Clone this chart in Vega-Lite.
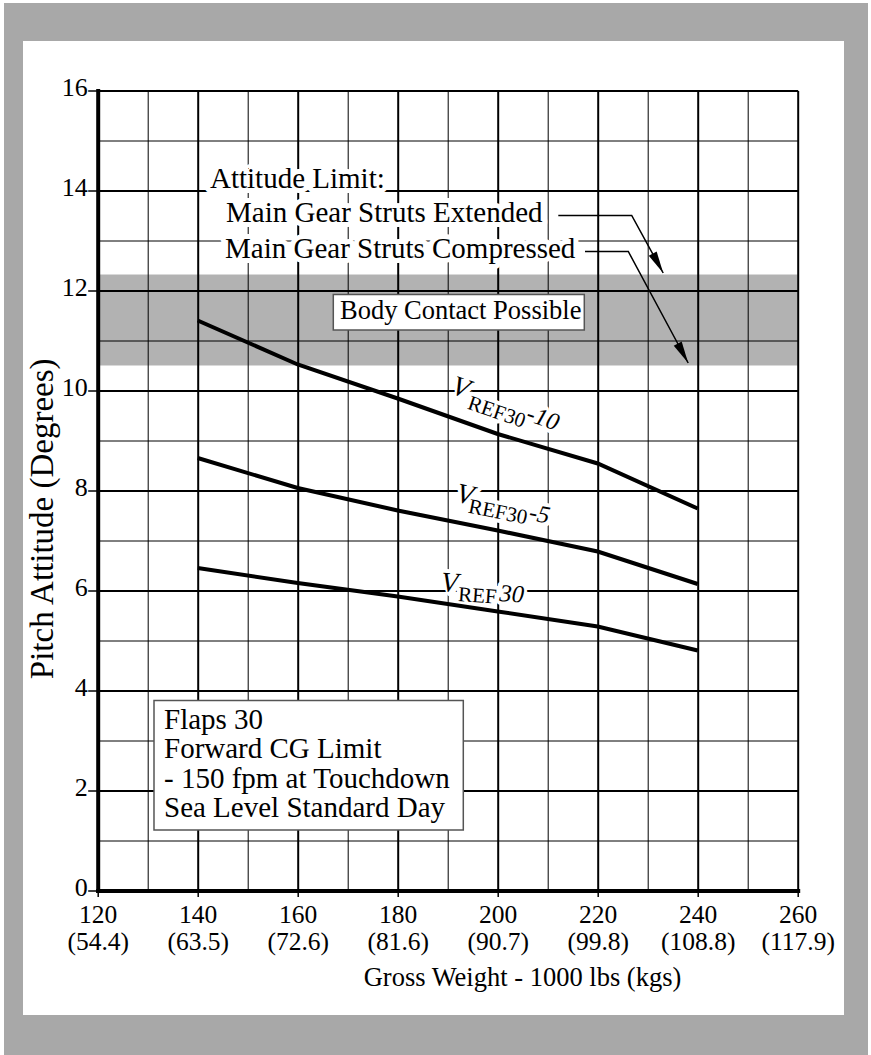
{
  "$schema": "https://vega.github.io/schema/vega-lite/v6.json",
  "width": 700,
  "height": 800,
  "autosize": {"type": "none"},
  "padding": {"left": 97.7, "top": 90.5, "right": 73.3, "bottom": 164.5},
  "background": "white",
  "config": {"view": {"stroke": null}, "font": "Liberation Serif"},
  "datasets": {
    "frame": [
      {"x": 101.26, "x2": 274.06, "y": 17.75, "y2": 16.99},
      {"x": 101.26, "x2": 274.06, "y": -2.49, "y2": -3.29},
      {"x": 101.26, "x2": 105.06, "y": 16.99, "y2": -2.49},
      {"x": 269.26, "x2": 274.06, "y": 16.99, "y2": -2.49}
    ],
    "band": [{"x": 120, "x2": 260, "y": 12.32, "y2": 10.5}],
    "curves": [
      {"series": "V10", "x": 140, "y": 11.4},
      {"series": "V10", "x": 160, "y": 10.52},
      {"series": "V10", "x": 180, "y": 9.84},
      {"series": "V10", "x": 200, "y": 9.13},
      {"series": "V10", "x": 220, "y": 8.54},
      {"series": "V10", "x": 240, "y": 7.64},
      {"series": "V5", "x": 140, "y": 8.65},
      {"series": "V5", "x": 160, "y": 8.05},
      {"series": "V5", "x": 180, "y": 7.6},
      {"series": "V5", "x": 200, "y": 7.2},
      {"series": "V5", "x": 220, "y": 6.78},
      {"series": "V5", "x": 240, "y": 6.13},
      {"series": "V0", "x": 140, "y": 6.45},
      {"series": "V0", "x": 160, "y": 6.15},
      {"series": "V0", "x": 180, "y": 5.88},
      {"series": "V0", "x": 200, "y": 5.58},
      {"series": "V0", "x": 220, "y": 5.28},
      {"series": "V0", "x": 240, "y": 4.8}
    ],
    "arrows": [
      {"arrow": "ext", "order": 1, "x": 212.12, "y": 13.5},
      {"arrow": "ext", "order": 2, "x": 226.8, "y": 13.5},
      {"arrow": "ext", "order": 3, "x": 233.1, "y": 12.35},
      {"arrow": "comp", "order": 1, "x": 217.46, "y": 12.78},
      {"arrow": "comp", "order": 2, "x": 226.12, "y": 12.78},
      {"arrow": "comp", "order": 3, "x": 238.1, "y": 10.55}
    ],
    "heads": [{"x": 233.1, "y": 12.35}, {"x": 238.1, "y": 10.55}],
    "boxes": [
      {"x": 167.12, "x2": 217.32, "y": 11.92, "y2": 11.21},
      {"x": 131.26, "x2": 193.12, "y": 3.8, "y2": 1.21}
    ],
    "notes": [
      {"x": 142.46, "y": 14.05, "text": "Attitude Limit:"},
      {"x": 145.66, "y": 13.38, "text": "Main Gear Struts Extended"},
      {"x": 145.46, "y": 12.66, "text": "Main Gear Struts Compressed"},
      {"x": 133.26, "y": 3.224, "text": "Flaps 30"},
      {"x": 133.26, "y": 2.644, "text": "Forward CG Limit"},
      {"x": 133.26, "y": 2.044, "text": "- 150 fpm at Touchdown"},
      {"x": 133.26, "y": 1.464, "text": "Sea Level Standard Day"}
    ],
    "body": [{"x": 168.46, "y": 11.424, "text": "Body Contact Possible"}],
    "labels": [
      {"label": "V10", "part": "V", "x": 190.46, "y": 9.95, "text": "V"},
      {"label": "V10", "part": "sub", "x": 193.76, "y": 9.64, "text": "REF30"},
      {"label": "V10", "part": "suf", "x": 205.46, "y": 9.41, "text": "-10"},
      {"label": "V5", "part": "V", "x": 191.46, "y": 7.78, "text": "V"},
      {"label": "V5", "part": "sub", "x": 193.96, "y": 7.56, "text": "REF30"},
      {"label": "V5", "part": "suf", "x": 206.06, "y": 7.42, "text": "-5"},
      {"label": "V0", "part": "V", "x": 188.56, "y": 5.99, "text": "V"},
      {"label": "V0", "part": "sub", "x": 192.0, "y": 5.79, "text": "REF"},
      {"label": "V0", "part": "suf", "x": 200.26, "y": 5.79, "text": "30"}
    ]
  },
  "encoding": {
    "x": {
      "field": "x",
      "type": "quantitative",
      "scale": {"domain": [120, 260], "nice": false, "zero": false},
      "axis": {
        "values": [120, 130, 140, 150, 160, 170, 180, 190, 200, 210, 220, 230, 240, 250, 260],
        "title": "Gross Weight - 1000 lbs (kgs)",
        "grid": true,
        "gridColor": "black",
        "gridOpacity": 1,
        "gridWidth": {"condition": {"test": "datum.value % 20 === 0", "value": 2}, "value": 1},
        "domainColor": "black",
        "domainWidth": 4,
        "domainCap": "square",
        "tickColor": "black",
        "tickWidth": 1.5,
        "tickSize": 6,
        "tickOpacity": {"condition": {"test": "datum.value % 20 === 0", "value": 1}, "value": 0},
        "labelExpr": "datum.value % 20 === 0 ? [datum.label, ['(54.4)','(63.5)','(72.6)','(81.6)','(90.7)','(99.8)','(108.8)','(117.9)'][(datum.value - 120) / 20]] : ''",
        "labelFont": "Liberation Serif",
        "labelFontSize": 25.5,
        "labelColor": "black",
        "labelLineHeight": 27,
        "labelBaseline": "top",
        "labelAlign": "center",
        "labelPadding": 6,
        "labelOverlap": false,
        "labelBound": false,
        "labelFlush": false,
        "titleFont": "Liberation Serif",
        "titleFontSize": 26.5,
        "titleFontWeight": "normal",
        "titleColor": "black",
        "titleX": 424.3,
        "titleY": 94.5,
        "titleAlign": "center",
        "titleBaseline": "alphabetic"
      }
    },
    "y": {
      "field": "y",
      "type": "quantitative",
      "scale": {"domain": [0, 16], "nice": false, "zero": false},
      "axis": {
        "values": [0, 1, 2, 3, 4, 5, 6, 7, 8, 9, 10, 11, 12, 13, 14, 15, 16],
        "title": "Pitch Attitude (Degrees)",
        "grid": true,
        "gridColor": "black",
        "gridOpacity": 1,
        "gridWidth": {"condition": {"test": "datum.value % 2 === 0", "value": 2}, "value": 1},
        "domainColor": "black",
        "domainWidth": 4,
        "domainCap": "square",
        "tickColor": "black",
        "tickWidth": 1.5,
        "tickSize": 10,
        "tickOpacity": {"condition": {"test": "datum.value % 2 === 0", "value": 1}, "value": 0},
        "labelExpr": "datum.value % 2 === 0 ? datum.label : ''",
        "labelFont": "Liberation Serif",
        "labelFontSize": 26,
        "labelColor": "black",
        "labelBaseline": "alphabetic",
        "labelAlign": "right",
        "labelOffset": 4.5,
        "labelPadding": 0.5,
        "labelOverlap": false,
        "labelBound": false,
        "labelFlush": false,
        "titleFont": "Liberation Serif",
        "titleFontSize": 33,
        "titleFontWeight": "normal",
        "titleColor": "black",
        "titleAngle": 270,
        "titleX": -45.4,
        "titleY": 427.8,
        "titleAlign": "center",
        "titleBaseline": "alphabetic"
      }
    }
  },
  "layer": [
    {
      "data": {"name": "frame"},
      "mark": {"type": "rect", "color": "#a8a8a8", "clip": false},
      "encoding": {"x2": {"field": "x2"}, "y2": {"field": "y2"}}
    },
    {
      "data": {"name": "band"},
      "mark": {"type": "rect", "color": "black", "opacity": 0.3},
      "encoding": {"x2": {"field": "x2"}, "y2": {"field": "y2"}}
    },
    {
      "data": {"name": "notes"},
      "mark": {"type": "text", "font": "Liberation Serif", "fontSize": 29, "align": "left", "baseline": "alphabetic", "fill": "white", "stroke": "white", "strokeWidth": 10, "strokeJoin": "round"},
      "encoding": {"text": {"field": "text"}}
    },
    {
      "data": {"name": "labels"},
      "mark": {"type": "text", "font": "Liberation Serif", "align": "left", "baseline": "alphabetic", "fill": "white", "stroke": "white", "strokeWidth": 8, "strokeJoin": "round"},
      "encoding": {
        "text": {"field": "text"},
        "angle": {"field": "label", "type": "ordinal", "scale": {"type": "point", "domain": ["V10", "V5", "V0"], "range": [19, 4], "padding": 0}, "legend": null},
        "size": {"field": "part", "type": "ordinal", "scale": {"type": "point", "domain": ["V", "suf", "sub"], "range": [28, 21], "padding": 0}, "legend": null}
      }
    },
    {
      "data": {"name": "curves"},
      "mark": {"type": "line", "color": "black", "strokeWidth": 4, "strokeCap": "butt"},
      "encoding": {"detail": {"field": "series"}}
    },
    {
      "data": {"name": "arrows"},
      "mark": {"type": "line", "color": "black", "strokeWidth": 1.5},
      "encoding": {"detail": {"field": "arrow"}, "order": {"field": "order"}}
    },
    {
      "data": {"name": "heads"},
      "mark": {"type": "point", "shape": "M0,0L-0.45,-2.2L0.45,-2.2Z", "size": 400, "angle": 331.5, "filled": true, "color": "black", "opacity": 1}
    },
    {
      "data": {"name": "boxes"},
      "mark": {"type": "rect", "fill": "white", "stroke": "#555555", "strokeWidth": 1.5},
      "encoding": {"x2": {"field": "x2"}, "y2": {"field": "y2"}}
    },
    {
      "data": {"name": "notes"},
      "mark": {"type": "text", "font": "Liberation Serif", "fontSize": 29, "align": "left", "baseline": "alphabetic", "color": "black"},
      "encoding": {"text": {"field": "text"}}
    },
    {
      "data": {"name": "body"},
      "mark": {"type": "text", "font": "Liberation Serif", "fontSize": 26.5, "align": "left", "baseline": "alphabetic", "color": "black"},
      "encoding": {"text": {"field": "text"}}
    },
    {
      "data": {"name": "labels"},
      "transform": [{"filter": "datum.part !== 'sub'"}],
      "mark": {"type": "text", "font": "Liberation Serif", "fontStyle": "italic", "align": "left", "baseline": "alphabetic", "color": "black"},
      "encoding": {
        "text": {"field": "text"},
        "angle": {"field": "label", "type": "ordinal", "scale": {"type": "point", "domain": ["V10", "V5", "V0"], "range": [19, 4], "padding": 0}, "legend": null},
        "size": {"field": "part", "type": "ordinal", "scale": {"type": "point", "domain": ["V", "suf", "sub"], "range": [28, 21], "padding": 0}, "legend": null}
      }
    },
    {
      "data": {"name": "labels"},
      "transform": [{"filter": "datum.part === 'sub'"}],
      "mark": {"type": "text", "font": "Liberation Serif", "align": "left", "baseline": "alphabetic", "color": "black"},
      "encoding": {
        "text": {"field": "text"},
        "angle": {"field": "label", "type": "ordinal", "scale": {"type": "point", "domain": ["V10", "V5", "V0"], "range": [19, 4], "padding": 0}, "legend": null},
        "size": {"field": "part", "type": "ordinal", "scale": {"type": "point", "domain": ["V", "suf", "sub"], "range": [28, 21], "padding": 0}, "legend": null}
      }
    }
  ]
}
